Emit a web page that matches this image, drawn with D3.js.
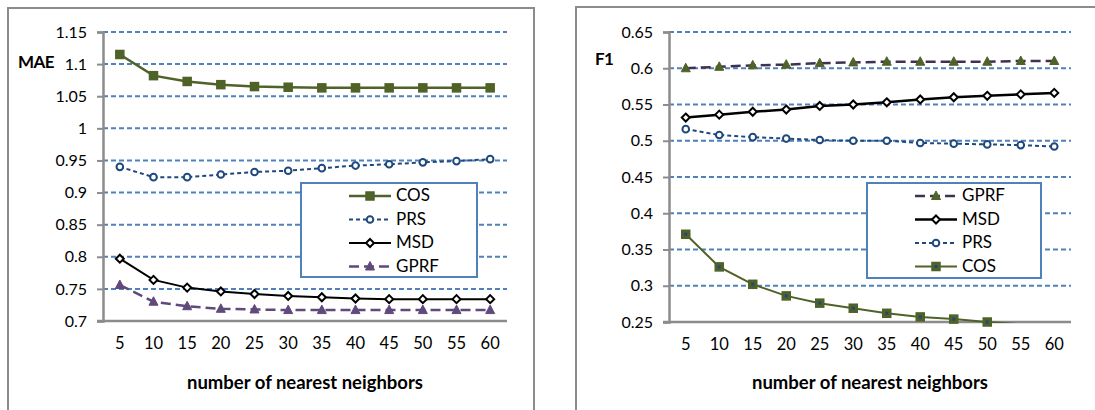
<!DOCTYPE html>
<html>
<head>
<meta charset="utf-8">
<script src="https://cdn.jsdelivr.net/npm/d3@7"></script>
<style>
  body { margin: 0; background: #fff; }
  svg text { font-family: Lato, "Noto Sans", sans-serif; fill: #000; }
</style>
</head>
<body>
<script>
// neighbours on the x axis
const neighbors = [5, 10, 15, 20, 25, 30, 35, 40, 45, 50, 55, 60]

// MAE chart (left)
const maeTicks = [0.7, 0.75, 0.8, 0.85, 0.9, 0.95, 1, 1.05, 1.1, 1.15]
const maeCOS = [1.115, 1.082, 1.073, 1.068, 1.065, 1.064, 1.063, 1.063, 1.063, 1.063, 1.063, 1.063]
const maePRS = [0.940, 0.924, 0.924, 0.928, 0.932, 0.934, 0.938, 0.942, 0.944, 0.947, 0.949, 0.952]
const maeMSD = [0.797, 0.764, 0.752, 0.746, 0.742, 0.739, 0.737, 0.735, 0.734, 0.734, 0.734, 0.734]
const maeGPRF = [0.756, 0.730, 0.723, 0.719, 0.718, 0.717, 0.717, 0.717, 0.717, 0.717, 0.717, 0.717]

// F1 chart (right)
const f1Ticks = [0.25, 0.3, 0.35, 0.4, 0.45, 0.5, 0.55, 0.6, 0.65]
const f1GPRF = [0.600, 0.602, 0.604, 0.605, 0.607, 0.608, 0.609, 0.609, 0.609, 0.609, 0.610, 0.610]
const f1MSD = [0.532, 0.536, 0.540, 0.543, 0.548, 0.550, 0.553, 0.557, 0.560, 0.562, 0.564, 0.566]
const f1PRS = [0.516, 0.508, 0.505, 0.503, 0.501, 0.500, 0.500, 0.497, 0.496, 0.495, 0.494, 0.492]
const f1COS = [0.371, 0.326, 0.302, 0.286, 0.276, 0.269, 0.262, 0.257, 0.254, 0.250, 0.247, 0.244]

const green = '#4f6228', blue = '#1f497d', purple = '#604a7b', darkPurple = '#3f3151'

const svg = d3.select('body').append('svg')
  .attr('width', 1095)
  .attr('height', 410)

function drawChart(cfg) {
  const g = svg.append('g')

  // outer frame
  g.append('rect')
    .attr('x', cfg.frame[0]).attr('y', cfg.frame[1])
    .attr('width', cfg.frame[2]).attr('height', cfg.frame[3])
    .attr('fill', 'none').attr('stroke', '#8c8c8c').attr('stroke-width', 2)

  const x = d3.scaleBand().domain(neighbors).range([cfg.left, cfg.right])
  const y = d3.scaleLinear().domain(d3.extent(cfg.ticks)).range([cfg.bottom, cfg.top])

  // gridlines
  g.append('g').selectAll('line')
    .data(cfg.ticks.slice(1))
    .enter().append('line')
    .attr('x1', cfg.left).attr('x2', cfg.right)
    .attr('y1', d => y(d)).attr('y2', d => y(d))
    .attr('stroke', '#4f81bd').attr('stroke-width', 2)
    .attr('stroke-dasharray', '5,3')

  // y axis
  const yAxis = g.append('g')
    .attr('transform', `translate(${cfg.left},0)`)
    .call(d3.axisLeft(y).tickValues(cfg.ticks).tickSize(6).tickPadding(10).tickFormat(d3.format('')))
  yAxis.select('.domain').attr('stroke', '#8c8c8c').attr('stroke-width', 2.5)
  yAxis.selectAll('.tick line').attr('stroke', '#8c8c8c').attr('stroke-width', 2)
  yAxis.selectAll('.tick text').attr('font-size', 16).attr('font-family', 'Lato').attr('fill', '#000')

  // x axis
  const xAxis = g.append('g')
    .attr('transform', `translate(0,${cfg.bottom})`)
    .call(d3.axisBottom(x).tickSize(0).tickPadding(16))
  xAxis.select('.domain').attr('stroke', '#8c8c8c').attr('stroke-width', 2.5)
    .attr('d', `M${cfg.left - 6},0H${cfg.right}`)
  xAxis.selectAll('.tick text').attr('font-size', 16.5).attr('font-family', 'Lato').attr('fill', '#000')

  // titles
  g.append('text')
    .attr('x', cfg.yTitle[0]).attr('y', cfg.yTitle[1])
    .attr('font-size', 17).attr('font-weight', 'bold')
    .attr('letter-spacing', -0.6)
    .attr('dominant-baseline', 'middle')
    .text(cfg.yLabel)
  g.append('text')
    .attr('x', (cfg.left + cfg.right) / 2).attr('y', 389)
    .attr('text-anchor', 'middle')
    .attr('font-size', 18.5).attr('font-weight', 'bold')
    .text('number of nearest neighbors')

  const clipId = 'clip' + cfg.id
  g.append('clipPath').attr('id', clipId)
    .append('rect')
    .attr('x', cfg.left).attr('y', cfg.top - 10)
    .attr('width', cfg.right - cfg.left).attr('height', cfg.bottom - cfg.top + 11)

  const cx = i => x(neighbors[i]) + x.bandwidth() / 2
  const line = d3.line().x((d, i) => cx(i)).y(d => y(d))

  for (const s of cfg.series) {
    g.append('path')
      .datum(s.values)
      .attr('clip-path', `url(#${clipId})`)
      .attr('d', line)
      .attr('fill', 'none')
      .attr('stroke', s.color)
      .attr('stroke-width', s.width)
      .attr('stroke-dasharray', s.dash)
    const pts = s.values.map((v, i) => [cx(i), y(v)]).filter((p, i) => s.values[i] >= cfg.ticks[0] - 0.0005)
    for (const p of pts) {
      drawMarker(g, s.marker, p[0], p[1])
    }
  }

  // legend
  const lg = g.append('g')
  lg.append('rect')
    .attr('x', cfg.legend[0]).attr('y', cfg.legend[1])
    .attr('width', cfg.legend[2]).attr('height', cfg.legend[3])
    .attr('fill', '#fff').attr('stroke', '#4f81bd').attr('stroke-width', 2)
  cfg.series.forEach(function (s, i) {
    const ly = cfg.legend[1] + 13 + i * 23.5
    const lx = cfg.legendLine
    lg.append('line')
      .attr('x1', lx).attr('x2', lx + 42)
      .attr('y1', ly).attr('y2', ly)
      .attr('stroke', s.color).attr('stroke-width', s.width)
      .attr('stroke-dasharray', s.dash)
    drawMarker(lg, s.marker, lx + 21, ly)
    lg.append('text')
      .attr('x', lx + 47).attr('y', ly + 1)
      .attr('dominant-baseline', 'middle')
      .attr('font-size', 17)
      .text(s.name)
  })
}

function drawMarker(g, m, px, py) {
  if (m.type === 'square') {
    g.append('rect')
      .attr('x', px - 4).attr('y', py - 4).attr('width', 8).attr('height', 8)
      .attr('fill', m.fill).attr('stroke', m.stroke).attr('stroke-width', 1.5)
    if (m.inner) {
      g.append('rect')
        .attr('x', px - 1.5).attr('y', py - 1.5).attr('width', 3).attr('height', 3)
        .attr('fill', m.inner)
    }
  } else if (m.type === 'circle') {
    g.append('circle')
      .attr('cx', px).attr('cy', py).attr('r', 3.3)
      .attr('fill', m.fill).attr('stroke', m.stroke).attr('stroke-width', 2)
  } else if (m.type === 'diamond') {
    g.append('path')
      .attr('d', `M${px},${py - 4}L${px + 4},${py}L${px},${py + 4}L${px - 4},${py}Z`)
      .attr('fill', m.fill).attr('stroke', m.stroke).attr('stroke-width', 2)
  } else if (m.type === 'triangle') {
    g.append('path')
      .attr('d', `M${px},${py - 5}L${px + 4.5},${py + 3.5}L${px - 4.5},${py + 3.5}Z`)
      .attr('fill', m.fill).attr('stroke', m.stroke).attr('stroke-width', 1)
  }
}

drawChart({
  id: 'mae',
  frame: [8, 8, 526, 420],
  left: 103, right: 507, top: 32, bottom: 321,
  ticks: maeTicks,
  yLabel: 'MAE',
  yTitle: [18, 64],
  legend: [301, 183, 176, 94],
  legendLine: 349,
  series: [
    { name: 'COS', values: maeCOS, color: green, width: 2.5, dash: null, marker: { type: 'square', fill: green, stroke: green } },
    { name: 'PRS', values: maePRS, color: blue, width: 2, dash: '4,3', marker: { type: 'circle', fill: '#fff', stroke: blue } },
    { name: 'MSD', values: maeMSD, color: '#000', width: 2, dash: null, marker: { type: 'diamond', fill: '#fff', stroke: '#000' } },
    { name: 'GPRF', values: maeGPRF, color: purple, width: 2.5, dash: '10,5', marker: { type: 'triangle', fill: purple, stroke: purple } },
  ],
})

drawChart({
  id: 'f1',
  frame: [576, 7, 540, 420],
  left: 669, right: 1071, top: 32, bottom: 322,
  ticks: f1Ticks,
  yLabel: 'F1',
  yTitle: [595, 61],
  legend: [867, 183, 174, 95],
  legendLine: 915,
  series: [
    { name: 'GPRF', values: f1GPRF, color: darkPurple, width: 2.5, dash: '10,5', marker: { type: 'triangle', fill: green, stroke: green } },
    { name: 'MSD', values: f1MSD, color: '#000', width: 2.5, dash: null, marker: { type: 'diamond', fill: '#fff', stroke: '#000' } },
    { name: 'PRS', values: f1PRS, color: blue, width: 2, dash: '4,3', marker: { type: 'circle', fill: '#fff', stroke: blue } },
    { name: 'COS', values: f1COS, color: green, width: 2, dash: null, marker: { type: 'square', fill: green, stroke: green, inner: blue } },
  ],
})
</script>
</body>
</html>
